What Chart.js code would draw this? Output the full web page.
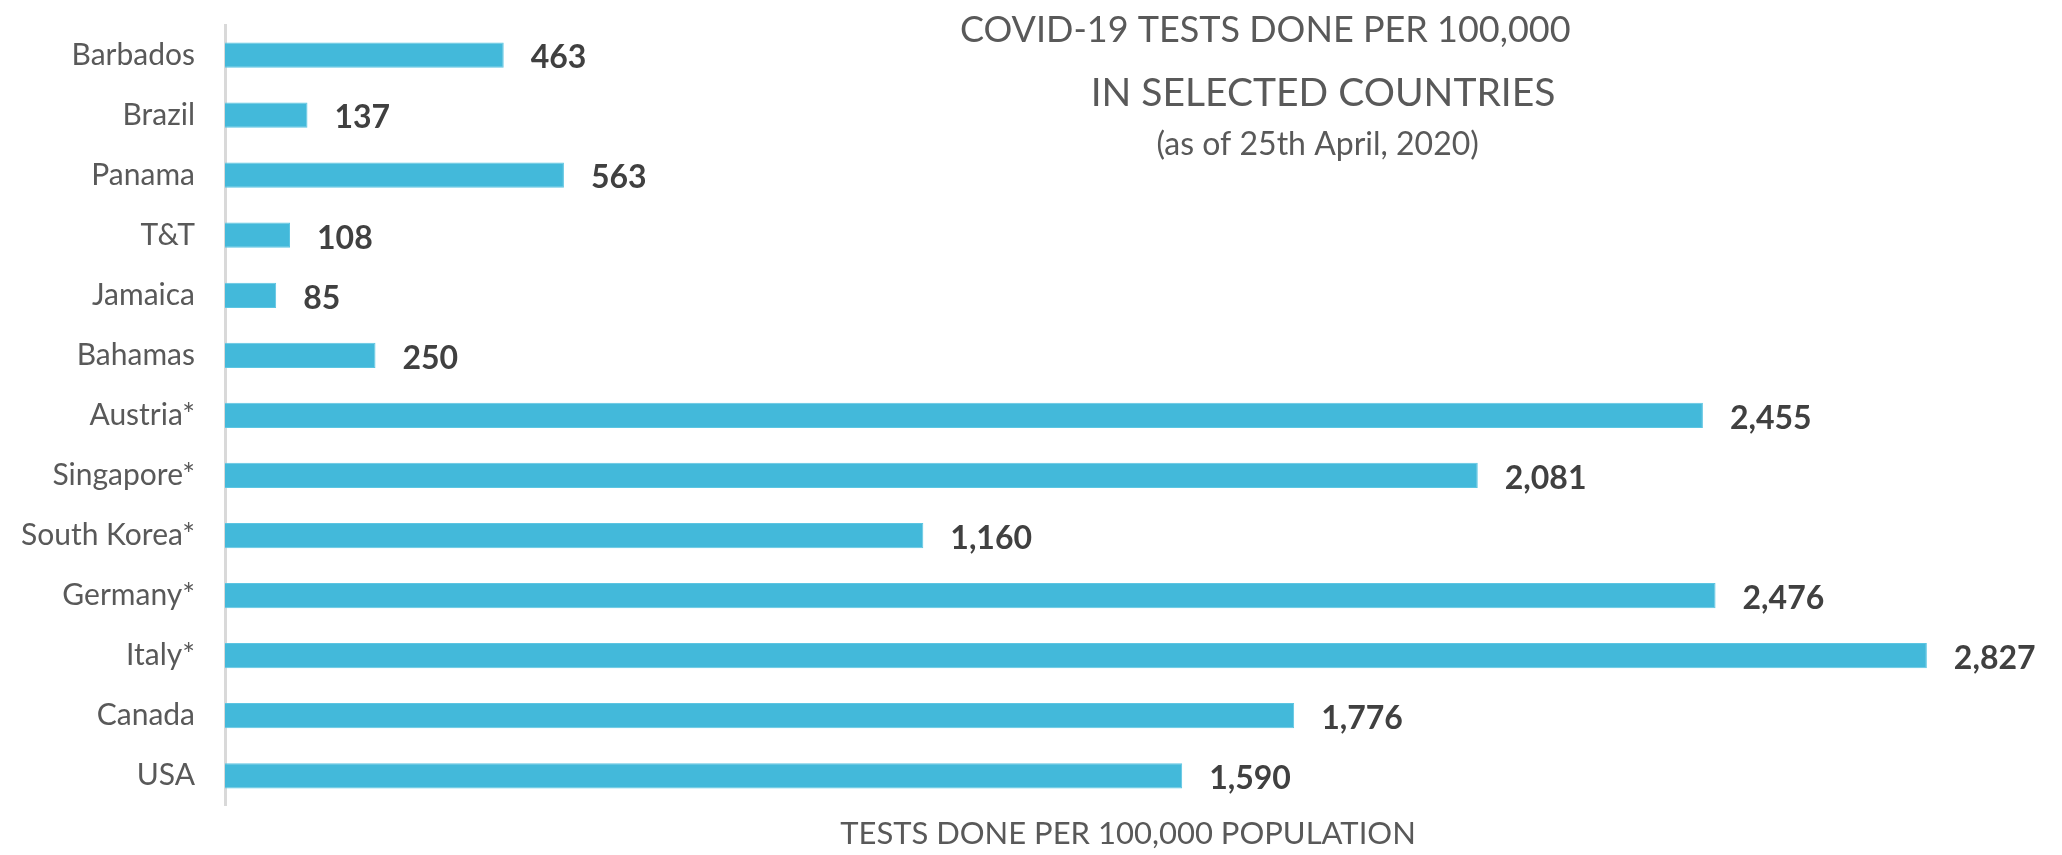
<!DOCTYPE html>
<html lang="en">
<head>
    <meta charset="UTF-8">
    <title>COVID-19 Tests Done per 100,000</title>
    <script src="https://cdn.jsdelivr.net/npm/chart.js"></script>
    <style>
        body, html {
            margin: 0;
            background: #ffffff;
        }
        .chart-container {
            width: 2062px;
            height: 855px;
        }
    </style>
</head>
<body>
    <div class="chart-container">
        <canvas id="testsChart"></canvas>
    </div>
    <script>
        const countries = ['Barbados', 'Brazil', 'Panama', 'T&T', 'Jamaica', 'Bahamas', 'Austria*',
            'Singapore*', 'South Korea*', 'Germany*', 'Italy*', 'Canada', 'USA'];
        const testsPer100k = [463, 137, 563, 108, 85, 250, 2455, 2081, 1160, 2476, 2827, 1776, 1590];

        const titleLines = ['COVID-19 TESTS DONE PER 100,000', 'IN SELECTED COUNTRIES'];
        const subtitle = '(as of 25th April, 2020)';
        const xTitle = 'TESTS DONE PER 100,000 POPULATION';

        const FONT = 'Lato, "Open Sans", sans-serif';

        // value labels to the right of each bar
        const valueLabels = {
            id: 'valueLabels',
            afterDatasetsDraw(chart) {
                const ctx = chart.ctx;
                const meta = chart.getDatasetMeta(0);
                ctx.save();
                ctx.font = 'bold 32px ' + FONT;
                ctx.fillStyle = '#404040';
                ctx.textAlign = 'left';
                ctx.textBaseline = 'middle';
                meta.data.forEach((bar, i) => {
                    const v = chart.data.datasets[0].data[i];
                    ctx.fillText(v.toLocaleString('en-US'), bar.x + 27, bar.y + 3);
                });
                ctx.restore();
            }
        };

        // title block over the right half of the plot
        const titleBlock = {
            id: 'titleBlock',
            afterDraw(chart) {
                const ctx = chart.ctx;
                const a = chart.chartArea;
                const w = a.right - a.left;
                ctx.save();
                ctx.fillStyle = '#595959';
                ctx.textAlign = 'center';
                ctx.textBaseline = 'middle';
                ctx.font = '36px ' + FONT;
                ctx.fillText(titleLines[0], a.left + w * 0.576, a.top + 5);
                ctx.font = '39px ' + FONT;
                ctx.fillText(titleLines[1], a.left + w * 0.608, a.top + 68);
                ctx.font = '32px ' + FONT;
                ctx.fillText(subtitle, a.left + w * 0.605, a.top + 120);
                ctx.restore();
            }
        };

        const ctx = document.getElementById('testsChart').getContext('2d');
        new Chart(ctx, {
            type: 'bar',
            data: {
                labels: countries,
                datasets: [{
                    data: testsPer100k,
                    backgroundColor: '#43b9da',
                    borderColor: '#5cc5e2',
                    borderWidth: 1,
                    barPercentage: 0.84,
                    categoryPercentage: 0.5
                }]
            },
            options: {
                indexAxis: 'y',
                responsive: true,
                maintainAspectRatio: false,
                animation: false,
                layout: {
                    padding: { top: 25, right: 31, bottom: 0, left: 0 }
                },
                plugins: {
                    legend: { display: false },
                    tooltip: { enabled: false }
                },
                scales: {
                    x: {
                        min: 0,
                        max: 3000,
                        ticks: { display: false },
                        grid: { display: false, drawTicks: false },
                        border: { display: false },
                        title: {
                            display: true,
                            text: xTitle,
                            color: '#595959',
                            font: { family: FONT, size: 31 },
                            padding: { top: 10, bottom: 2 }
                        }
                    },
                    y: {
                        afterFit(scale) {
                            scale.width = 225;
                            scale.paddingTop = 0;
                            scale.paddingBottom = 0;
                        },
                        ticks: {
                            color: '#595959',
                            font: { family: FONT, size: 30 },
                            padding: 30
                        },
                        grid: { display: false, drawTicks: false },
                        border: { display: true, color: '#d9d9d9', width: 3 }
                    }
                }
            },
            plugins: [valueLabels, titleBlock]
        });
    </script>
</body>
</html>
